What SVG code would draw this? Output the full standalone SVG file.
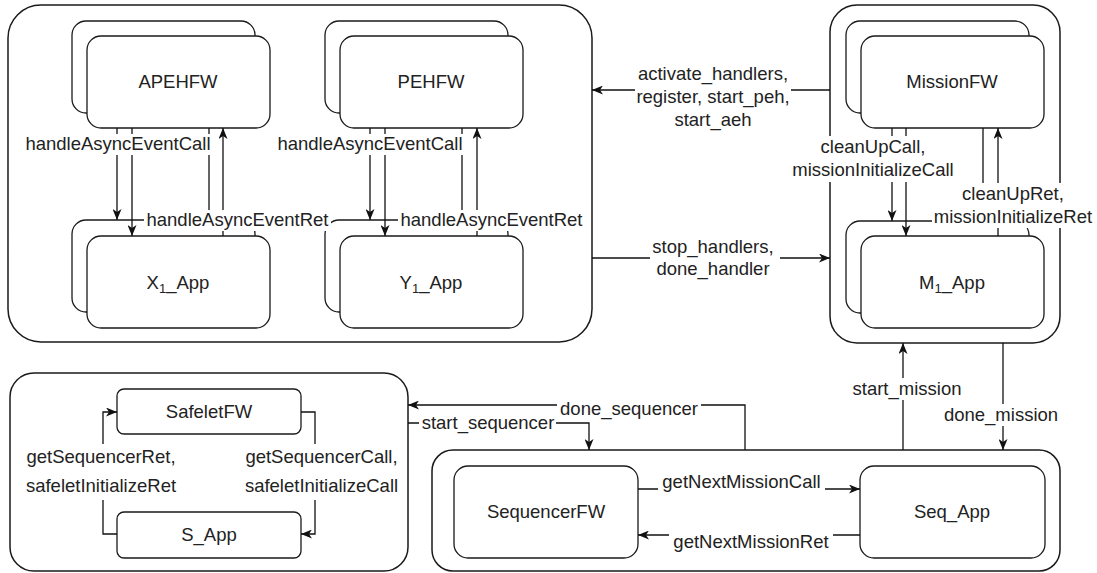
<svg xmlns="http://www.w3.org/2000/svg" width="1097" height="573" viewBox="0 0 1097 573">
<style>
.c{fill:#fff;stroke:#1a1a1a;stroke-width:1.5}
.b{fill:#fff;stroke:#1a1a1a;stroke-width:1.3}
.t{font-family:"Liberation Sans",Arial,Helvetica,sans-serif;font-size:18.5px;fill:#222;text-anchor:middle}
.e{fill:none;stroke:#111;stroke-width:1.3}
.a{marker-end:url(#arr)}
.lb{fill:#fff;stroke:none}
</style>
<defs>
<marker id="arr" viewBox="0 0 11 9" refX="11" refY="4.5" markerWidth="11" markerHeight="9" markerUnits="userSpaceOnUse" orient="auto">
<path d="M0,0 L11,4.5 L0,9 L3,4.5 Z" fill="#111"/>
</marker>
</defs>
<rect width="1097" height="573" fill="#fff"/>

<g id="handlers-container"><rect class="c" x="8" y="5" width="584" height="337" rx="33"/></g>
<g id="mission-container"><rect class="c" x="830" y="5" width="230" height="338" rx="27"/></g>
<g id="safelet-container"><rect class="c" x="10" y="373" width="398" height="198" rx="24"/></g>
<g id="sequencer-container"><rect class="c" x="432" y="450" width="628" height="121" rx="21"/></g>

<g id="APEHFW">
<rect class="b" x="72" y="21" width="183" height="92" rx="14"/>
<rect class="b" x="87" y="36" width="183" height="92" rx="14"/>
<text class="t" x="178" y="88">APEHFW</text>
</g>
<g id="PEHFW">
<rect class="b" x="325" y="21" width="183" height="92" rx="14"/>
<rect class="b" x="340" y="36" width="183" height="92" rx="14"/>
<text class="t" x="431" y="88">PEHFW</text>
</g>
<g id="X1_App">
<rect class="b" x="72" y="220" width="183" height="92" rx="14"/>
<rect class="b" x="87" y="236" width="183" height="92" rx="14"/>
<text class="t" x="178" y="289">X<tspan font-size="13" dy="4">1</tspan><tspan dy="-4">_App</tspan></text>
</g>
<g id="Y1_App">
<rect class="b" x="325" y="220" width="183" height="92" rx="14"/>
<rect class="b" x="340" y="236" width="183" height="92" rx="14"/>
<text class="t" x="431" y="289">Y<tspan font-size="13" dy="4">1</tspan><tspan dy="-4">_App</tspan></text>
</g>
<g id="MissionFW">
<rect class="b" x="846" y="21" width="183" height="92" rx="14"/>
<rect class="b" x="861" y="36" width="183" height="92" rx="14"/>
<text class="t" x="952" y="88">MissionFW</text>
</g>
<g id="M1_App">
<rect class="b" x="846" y="221" width="183" height="92" rx="14"/>
<rect class="b" x="861" y="236" width="183" height="92" rx="14"/>
<text class="t" x="952" y="289">M<tspan font-size="13" dy="4">1</tspan><tspan dy="-4">_App</tspan></text>
</g>
<g id="SafeletFW">
<rect class="b" x="117" y="389" width="184" height="45" rx="7"/>
<text class="t" x="209" y="418">SafeletFW</text>
</g>
<g id="S_App">
<rect class="b" x="117" y="512" width="184" height="46" rx="7"/>
<text class="t" x="209" y="541">S_App</text>
</g>
<g id="SequencerFW">
<rect class="b" x="454" y="466" width="184" height="92" rx="14"/>
<text class="t" x="546" y="518">SequencerFW</text>
</g>
<g id="Seq_App">
<rect class="b" x="860" y="466" width="185" height="92" rx="14"/>
<text class="t" x="952" y="518">Seq_App</text>
</g>

<g id="connectors">
<line class="e a" x1="117" y1="128" x2="117" y2="220"/>
<line class="e a" x1="132" y1="128" x2="132" y2="236"/>
<line class="e" x1="209" y1="128" x2="209" y2="220"/>
<line class="e a" x1="223" y1="236" x2="223" y2="128"/>
<line class="e a" x1="370" y1="128" x2="370" y2="220"/>
<line class="e a" x1="385" y1="128" x2="385" y2="236"/>
<line class="e" x1="462" y1="128" x2="462" y2="220"/>
<line class="e a" x1="477" y1="236" x2="477" y2="128"/>
<line class="e a" x1="892" y1="128" x2="892" y2="221"/>
<line class="e a" x1="906" y1="128" x2="906" y2="236"/>
<line class="e" x1="983" y1="128" x2="983" y2="221"/>
<line class="e a" x1="998" y1="236" x2="998" y2="128"/>
<line class="e a" x1="830" y1="90" x2="592" y2="90"/>
<line class="e a" x1="592" y1="258" x2="830" y2="258"/>
<line class="e a" x1="903" y1="450" x2="903" y2="343"/>
<line class="e a" x1="1003" y1="343" x2="1003" y2="450"/>
<polyline class="e a" points="745,450 745,405 408,405"/>
<polyline class="e a" points="408,423 589,423 589,450"/>
<line class="e a" x1="638" y1="489" x2="860" y2="489"/>
<line class="e a" x1="860" y1="535" x2="638" y2="535"/>
<polyline class="e a" points="117,534 103,534 103,412 117,412"/>
<polyline class="e a" points="301,412 315,412 315,534 301,534"/>

<rect class="lb" x="20" y="134" width="196" height="21"/>
<text class="t" x="118" y="150">handleAsyncEventCall</text>
<rect class="lb" x="144" y="210" width="187" height="21"/>
<text class="t" x="237.5" y="226">handleAsyncEventRet</text>
<rect class="lb" x="273" y="134" width="194" height="21"/>
<text class="t" x="370" y="150">handleAsyncEventCall</text>
<rect class="lb" x="398" y="210" width="187" height="21"/>
<text class="t" x="491.5" y="226">handleAsyncEventRet</text>

<rect class="lb" x="635" y="63" width="156" height="68"/>
<text class="t" x="713" y="80">activate_handlers,</text>
<text class="t" x="713" y="103">register, start_peh,</text>
<text class="t" x="713" y="126">start_aeh</text>
<rect class="lb" x="650" y="236" width="130" height="44"/>
<text class="t" x="713" y="253">stop_handlers,</text>
<text class="t" x="713" y="275">done_handler</text>

<rect class="lb" x="790" y="136" width="166" height="46"/>
<text class="t" x="873" y="153">cleanUpCall,</text>
<text class="t" x="873" y="176">missionInitializeCall</text>
<rect class="lb" x="932" y="183" width="162" height="45"/>
<text class="t" x="1013" y="200">cleanUpRet,</text>
<text class="t" x="1013" y="223">missionInitializeRet</text>

<rect class="lb" x="850" y="378" width="114" height="22"/>
<text class="t" x="907" y="395">start_mission</text>
<rect class="lb" x="943" y="404" width="116" height="22"/>
<text class="t" x="1001" y="421">done_mission</text>

<rect class="lb" x="557" y="398" width="144" height="22"/>
<text class="t" x="629" y="415">done_sequencer</text>
<rect class="lb" x="419" y="413" width="137" height="21"/>
<text class="t" x="488" y="429">start_sequencer</text>

<rect class="lb" x="658" y="471" width="167" height="22"/>
<text class="t" x="741.5" y="488">getNextMissionCall</text>
<rect class="lb" x="669" y="531" width="164" height="22"/>
<text class="t" x="751" y="548">getNextMissionRet</text>

<rect class="lb" x="24" y="444" width="155" height="56"/>
<text class="t" x="101" y="463">getSequencerRet,</text>
<text class="t" x="101" y="492">safeletInitializeRet</text>
<rect class="lb" x="241" y="444" width="161" height="56"/>
<text class="t" x="321.5" y="463">getSequencerCall,</text>
<text class="t" x="321.5" y="492">safeletInitializeCall</text>
</g>
</svg>
